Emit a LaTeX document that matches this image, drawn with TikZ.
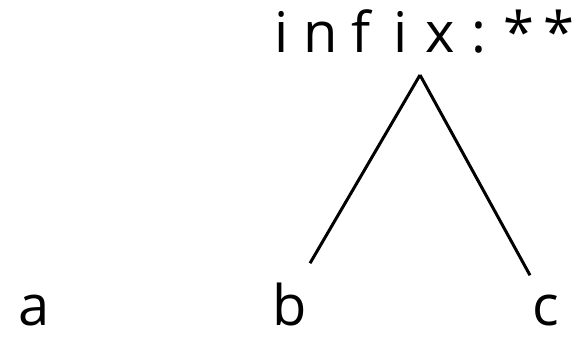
\documentclass[tikz,border=0pt]{standalone}
\usepackage{fontspec}
\setmainfont{Open Sans}
\newcommand{\chb}[1]{\makebox[39.6pt][c]{#1}}
\begin{document}
\begin{tikzpicture}[x=1pt,y=1pt,
  lbl/.style={inner sep=0pt, anchor=base, font=\fontsize{56}{62}\selectfont},
  edge/.style={line width=3pt}]
\useasboundingbox (0,0) rectangle (572,337);
\node[lbl] (root) at (420,284) {\chb{i}\chb{n}\chb{f}\chb{i}\chb{x}\chb{:}\chb{*}\chb{*}};
\node[lbl] (a) at (34,12) {a};
\node[lbl] (b) at (290,12) {b};
\node[lbl] (c) at (546,12) {c};
\coordinate (apex) at ([yshift=-22pt]root.base);
\coordinate (bend) at ([xshift=20pt,yshift=19pt]b.north);
\coordinate (cend) at ([xshift=-16pt,yshift=19pt]c.north);
\draw[edge] (apex) -- (bend);
\draw[edge] (apex) -- (cend);
\end{tikzpicture}
\end{document}
